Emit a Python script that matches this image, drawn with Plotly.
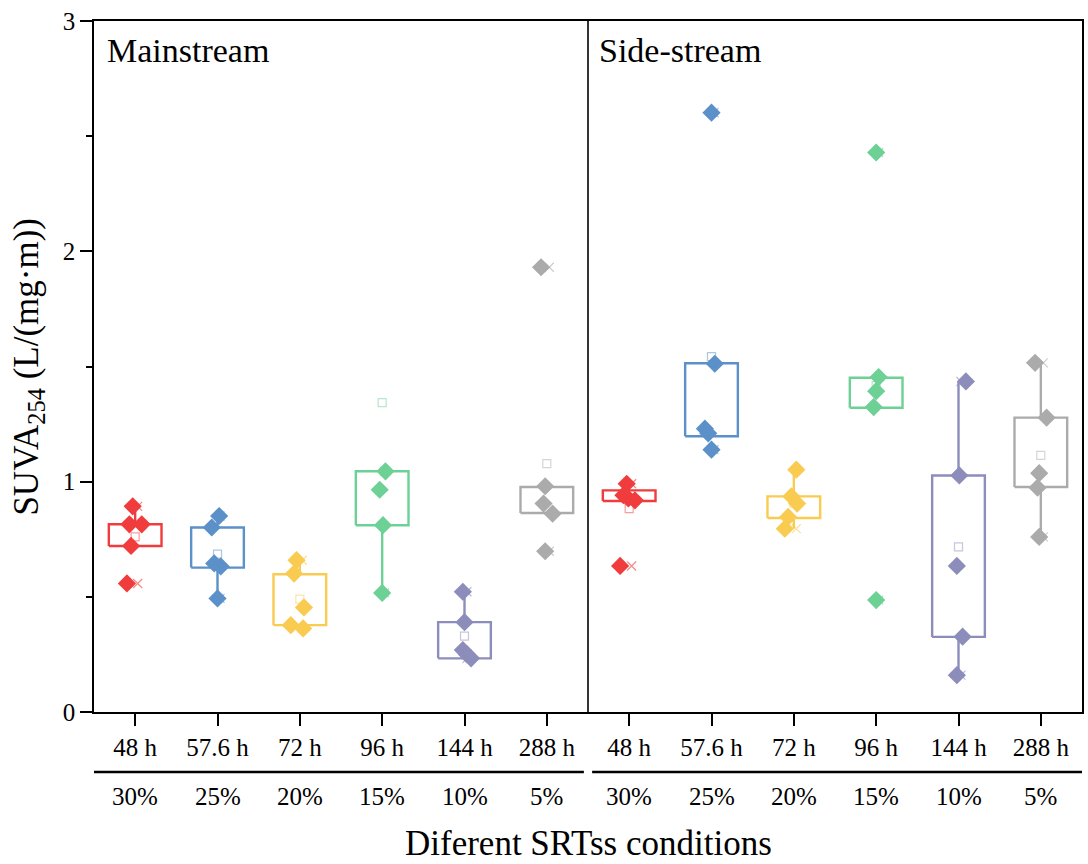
import plotly.graph_objects as go

# ---------------- data ----------------
hours = ["48 h", "57.6 h", "72 h", "96 h", "144 h", "288 h"]
ratios = ["30%", "25%", "20%", "15%", "10%", "5%"]
panels = ["Mainstream", "Side-stream"]
colors = ["#F03C3C", "#5B90C8", "#F9CB50", "#6DD095", "#8D8DBB", "#ABABAB"]

# SUVA254 values of individual samples (mainstream, then side-stream)
main_points = [
    [0.893, 0.815, 0.815, 0.721, 0.558],
    [0.851, 0.801, 0.645, 0.632, 0.493],
    [0.659, 0.601, 0.454, 0.377, 0.363],
    [1.045, 0.965, 0.811, 0.517],
    [0.522, 0.390, 0.269, 0.250, 0.233],
    [1.931, 0.980, 0.905, 0.861, 0.698],
]
side_points = [
    [0.991, 0.941, 0.927, 0.919, 0.634],
    [2.602, 1.512, 1.230, 1.210, 1.139],
    [1.052, 0.936, 0.905, 0.847, 0.796],
    [2.429, 1.454, 1.393, 1.324, 0.486],
    [1.435, 1.027, 0.634, 0.327, 0.160],
    [1.516, 1.278, 1.037, 0.974, 0.760],
]
# horizontal scatter of the sample markers (category units)
main_jitter = [
    [-0.03, -0.07, 0.08, -0.05, -0.10],
    [0.02, -0.07, -0.04, 0.04, 0.00],
    [-0.04, -0.07, 0.05, -0.11, 0.04],
    [0.04, -0.03, 0.01, 0.00],
    [-0.02, 0.00, -0.02, 0.03, 0.08],
    [-0.07, -0.02, -0.04, 0.07, -0.02],
]
side_jitter = [
    [-0.03, -0.07, -0.01, 0.07, -0.11],
    [0.00, 0.04, -0.08, -0.04, 0.00],
    [0.03, -0.03, 0.04, -0.07, -0.11],
    [0.00, 0.03, 0.00, -0.03, 0.00],
    [0.09, 0.01, -0.02, 0.05, -0.02],
    [-0.07, 0.07, -0.02, -0.04, -0.02],
]
# box statistics
main_q1 = [0.721, 0.627, 0.377, 0.811, 0.233, 0.864]
main_q3 = [0.815, 0.801, 0.598, 1.045, 0.390, 0.977]
main_lo = [0.721, 0.493, 0.377, 0.517, 0.233, 0.864]
main_hi = [0.893, 0.851, 0.659, 1.045, 0.522, 0.977]
main_mean = [0.760, 0.685, 0.490, 1.343, 0.329, 1.078]
side_q1 = [0.916, 1.197, 0.842, 1.321, 0.326, 0.977]
side_q3 = [0.962, 1.514, 0.936, 1.451, 1.027, 1.278]
side_lo = [0.916, 1.197, 0.796, 1.321, 0.160, 0.760]
side_hi = [0.962, 1.514, 1.052, 1.451, 1.435, 1.516]
side_mean = [0.883, 1.543, 0.907, 1.417, 0.717, 1.114]

FONT = "Liberation Serif, Times New Roman, serif"
BOX_HALF = 0.32

fig = go.Figure()


def lighten(hexc, a):
    h = hexc.lstrip("#")
    r, g, b = int(h[0:2], 16), int(h[2:4], 16), int(h[4:6], 16)
    return f"rgba({r},{g},{b},{a})"


def add_group(pos, col, pts, jit, q1, q3, lo, hi, mean):
    # box + whiskers
    xs = [pos - BOX_HALF, pos + BOX_HALF, pos + BOX_HALF, pos - BOX_HALF, pos - BOX_HALF,
          None, pos, pos, None, pos, pos]
    ys = [q1, q1, q3, q3, q1, None, lo, q1, None, q3, hi]
    fig.add_trace(go.Scatter(x=xs, y=ys, mode="lines", line=dict(color=col, width=2.4),
                             hoverinfo="skip", showlegend=False))
    # mean
    light = lighten(col, 0.5)
    fig.add_trace(go.Scatter(x=[pos], y=[mean], mode="markers",
                             marker=dict(symbol="square-open", size=8, color=light,
                                         line=dict(width=1.2, color=light)),
                             showlegend=False))
    # 1% / 99% crosses
    fig.add_trace(go.Scatter(x=[pos + 0.03, pos + 0.03], y=[min(pts), max(pts)], mode="markers",
                             marker=dict(symbol="x-thin-open", size=9, color=lighten(col, 0.6),
                                         line=dict(width=1.2, color=lighten(col, 0.6))),
                             showlegend=False))
    # samples
    fig.add_trace(go.Scatter(x=[pos + j for j in jit], y=pts, mode="markers",
                             marker=dict(symbol="diamond", size=14, color=col,
                                         line=dict(width=0)),
                             showlegend=False))


for i in range(6):
    add_group(i, colors[i], main_points[i], main_jitter[i], main_q1[i], main_q3[i],
              main_lo[i], main_hi[i], main_mean[i])
for i in range(6):
    add_group(6 + i, colors[i], side_points[i], side_jitter[i], side_q1[i], side_q3[i],
              side_lo[i], side_hi[i], side_mean[i])

tick_pos = list(range(12))
fig.update_xaxes(range=[-0.5, 11.5], tickmode="array", tickvals=tick_pos,
                 ticktext=hours + hours, ticks="outside", ticklen=12, tickwidth=1.6,
                 tickcolor="black", showline=True, linewidth=1.6, linecolor="black",
                 mirror=True, showgrid=False, zeroline=False,
                 tickfont=dict(family=FONT, size=25, color="black"))
fig.update_yaxes(range=[0, 3], tickmode="array", tickvals=[0, 1, 2, 3],
                 ticks="outside", ticklen=12, tickwidth=1.6, tickcolor="black",
                 minor=dict(tickvals=[0.5, 1.5, 2.5], ticks="outside", ticklen=6,
                            tickwidth=1.6, tickcolor="black"),
                 showline=True, linewidth=1.6, linecolor="black", mirror=True,
                 showgrid=False, zeroline=False,
                 tickfont=dict(family=FONT, size=25, color="black"))

# panel divider
fig.add_shape(type="line", xref="x", yref="y", x0=5.5, x1=5.5, y0=0, y1=3,
              line=dict(color="black", width=1.6))
# separator between hour and ratio rows
fig.add_shape(type="line", xref="x", yref="paper", x0=-0.5, x1=5.45, y0=-0.0868, y1=-0.0868,
              line=dict(color="black", width=2.6))
fig.add_shape(type="line", xref="x", yref="paper", x0=5.55, x1=11.5, y0=-0.0868, y1=-0.0868,
              line=dict(color="black", width=2.6))

for k in range(12):
    fig.add_annotation(x=k, xref="x", y=-0.123, yref="paper", text=(ratios + ratios)[k],
                       showarrow=False, yanchor="middle",
                       font=dict(family=FONT, size=25, color="black"))

fig.add_annotation(x=0.011, xref="paper", y=0.958, yref="paper", text=panels[0],
                   showarrow=False, xanchor="left", yanchor="middle",
                   font=dict(family=FONT, size=34, color="black"))
fig.add_annotation(x=0.509, xref="paper", y=0.958, yref="paper", text=panels[1],
                   showarrow=False, xanchor="left", yanchor="middle",
                   font=dict(family=FONT, size=34, color="black"))

fig.add_annotation(x=0.5, xref="paper", y=-0.19, yref="paper",
                   text="Diferent SRTss conditions", showarrow=False, yanchor="middle",
                   font=dict(family=FONT, size=35, color="black"))
fig.add_annotation(x=-0.0667, xref="paper", y=0.5, yref="paper", textangle=-90,
                   text="SUVA<sub>254</sub> (L/(mg·m))", showarrow=False,
                   xanchor="center", yanchor="middle",
                   font=dict(family=FONT, size=35, color="black"))

fig.update_layout(width=1088, height=864, margin=dict(l=94, r=4, t=21, b=152),
                  plot_bgcolor="white", paper_bgcolor="white", showlegend=False)

fig.write_html("out.html", config={"displayModeBar": False},
               post_script="document.body.style.margin='0px';")
